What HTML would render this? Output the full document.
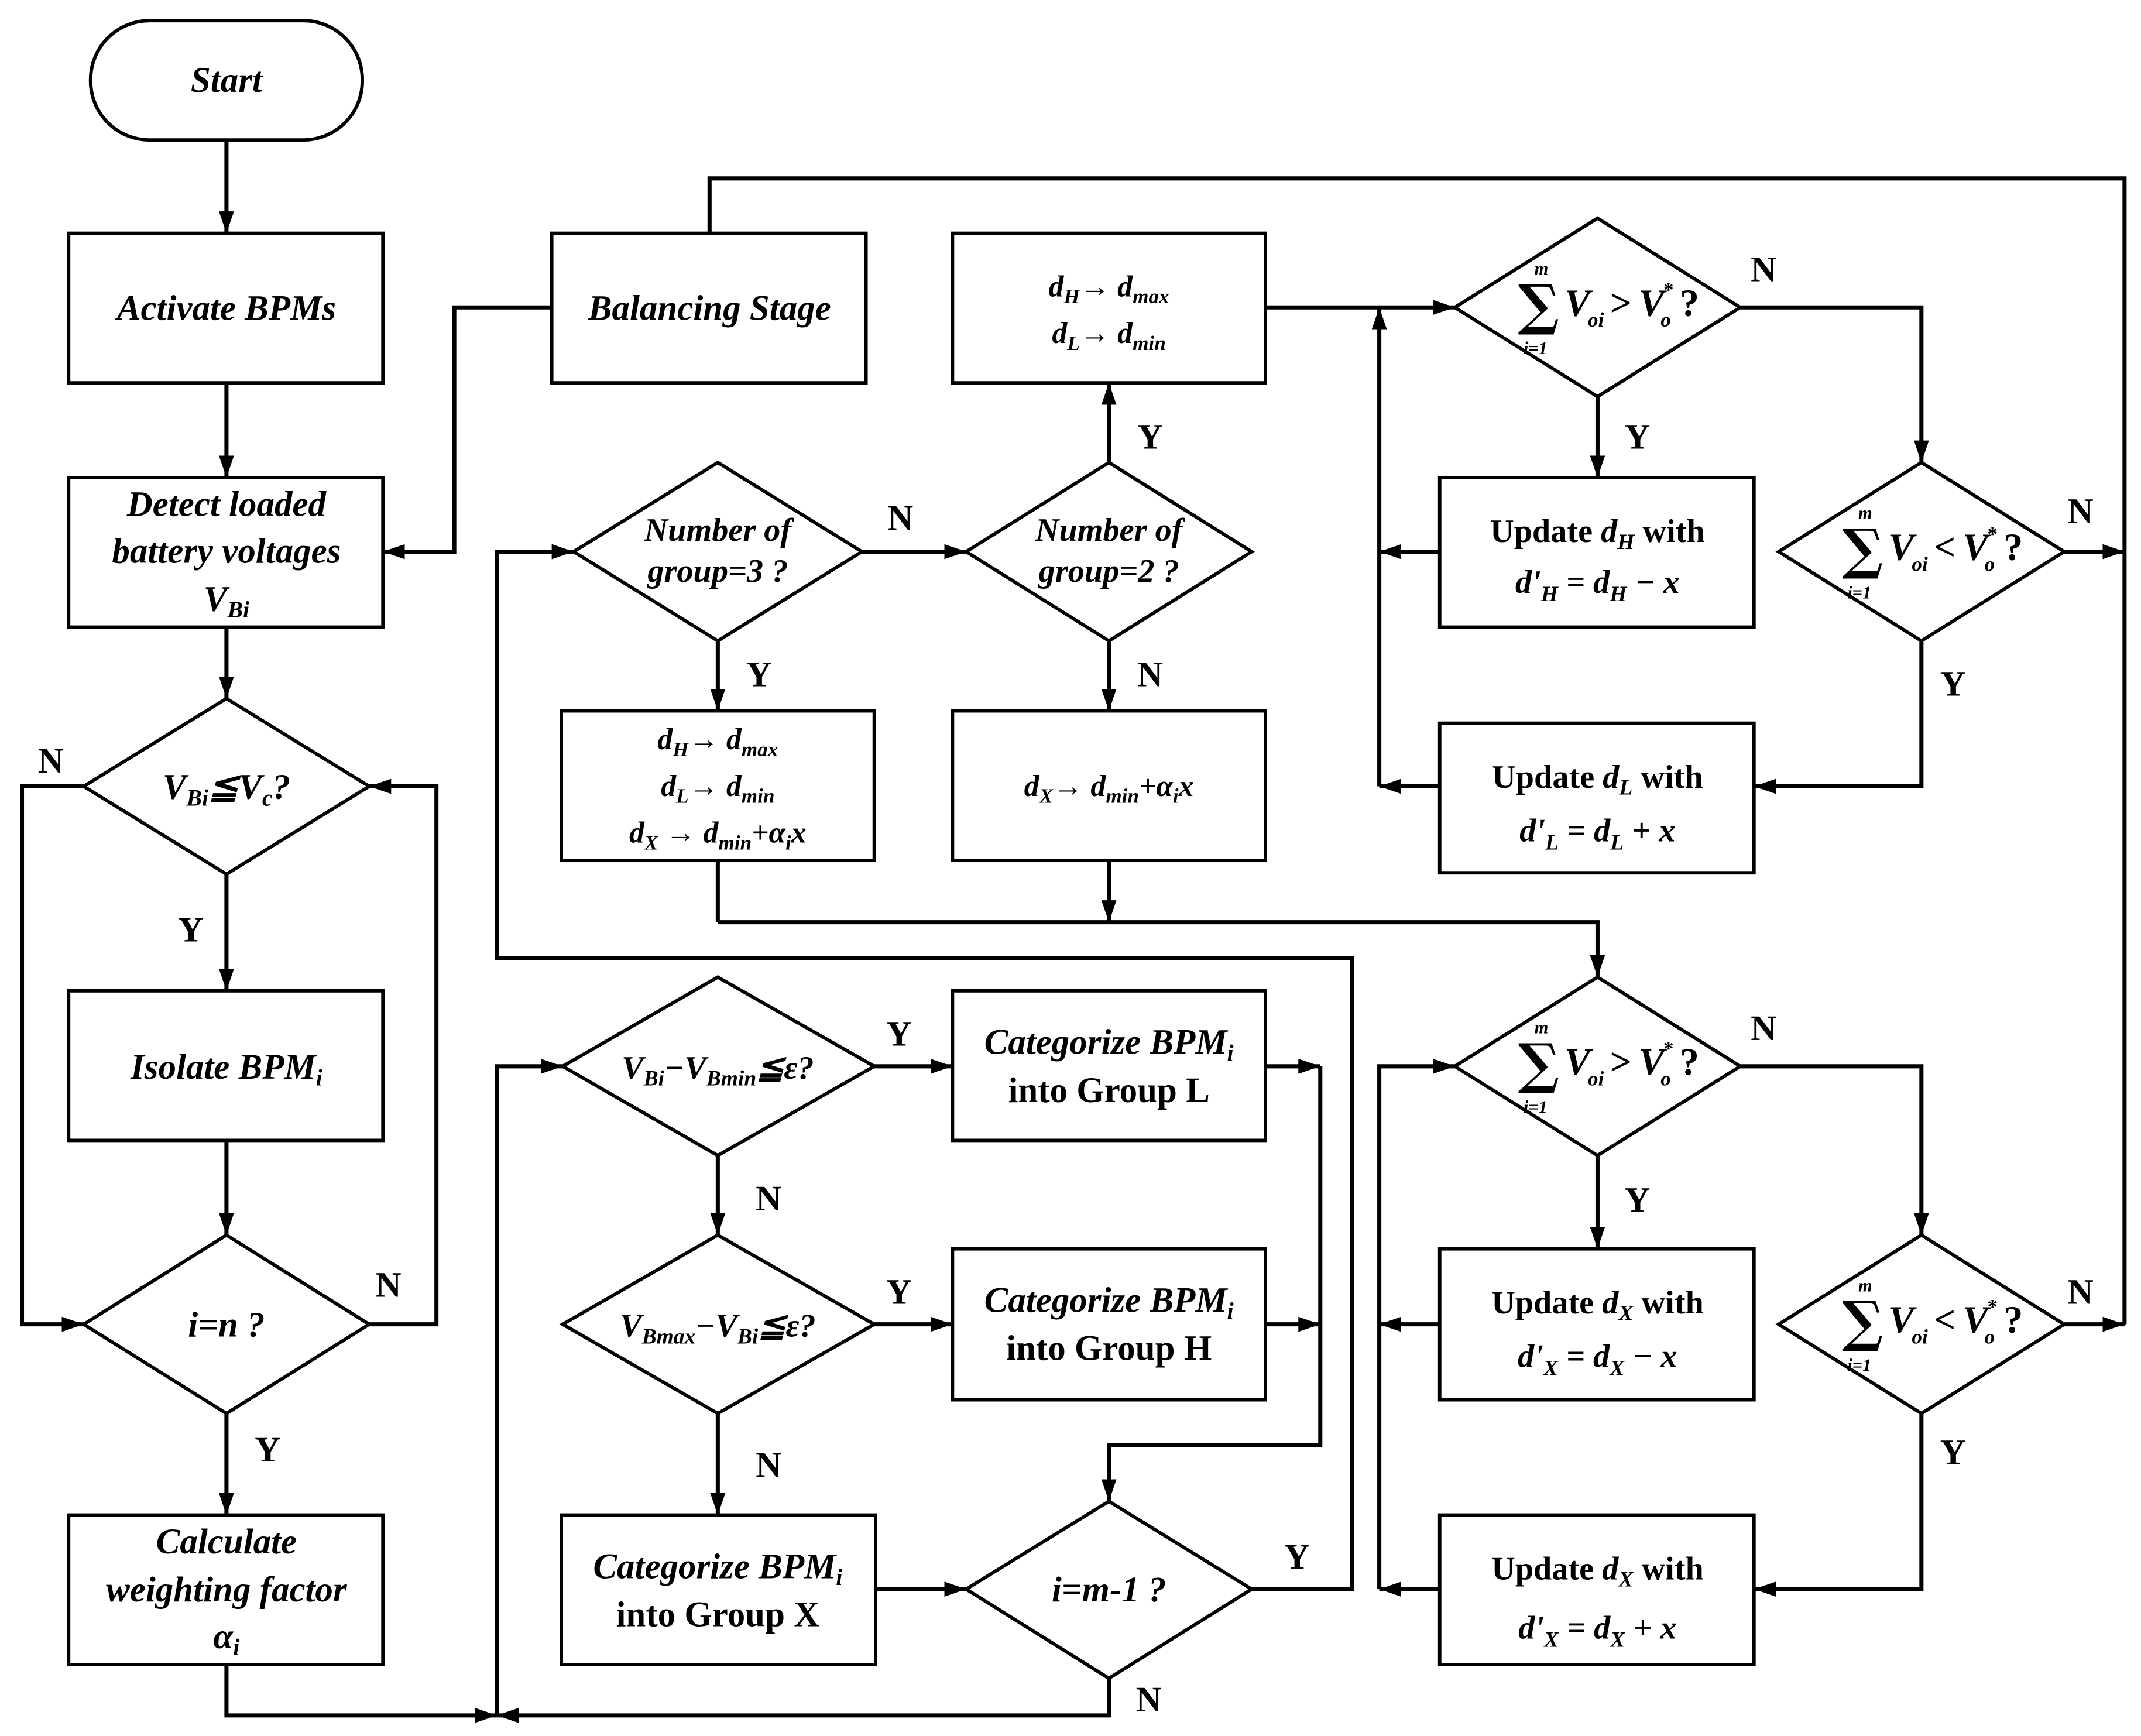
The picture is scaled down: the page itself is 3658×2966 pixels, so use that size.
<!DOCTYPE html>
<html><head><meta charset="utf-8">
<style>
html,body{margin:0;padding:0;background:#fff;}
svg{display:block;}
text{font-family:"Liberation Serif",serif;font-weight:bold;fill:#000;}
.i{font-style:italic;}
.sg{font-family:"DejaVu Serif",serif;font-style:normal;font-weight:bold;}
</style></head><body>
<svg width="3658" height="2966" viewBox="0 0 1560 1265" preserveAspectRatio="none" xmlns="http://www.w3.org/2000/svg">
<defs>
<marker id="a" viewBox="0 0 16 11" refX="16" refY="5.5" markerWidth="16" markerHeight="11" markerUnits="userSpaceOnUse" orient="auto">
<path d="M0,0 L16,5.5 L0,11 z" fill="#000"/></marker>
<g id="sgt">
<text x="-58" y="12" font-size="40" class="sg">∑</text>
<text x="-46" y="-24" font-size="13" class="i">m</text>
<text x="-54" y="34" font-size="13" class="i">i=1</text>
</g>
</defs>
<g fill="none" stroke="#000" stroke-width="2.5">
<rect x="66" y="15" width="198" height="87" rx="43"/>
<rect x="50" y="170" width="229" height="109"/>
<rect x="50" y="348" width="229" height="109"/>
<polygon points="165,509 269,573 165,637 61,573"/>
<rect x="50" y="722" width="229" height="109"/>
<polygon points="165,900 269,965 165,1030 61,965"/>
<rect x="50" y="1104" width="229" height="109"/>
<rect x="402" y="170" width="229" height="109"/>
<polygon points="523,337 628,402 523,467 418,402"/>
<polygon points="808,337 912,402 808,467 704,402"/>
<rect x="694" y="170" width="228" height="109"/>
<rect x="409" y="518" width="228" height="109"/>
<rect x="694" y="518" width="228" height="109"/>
<polygon points="1164,159 1268,224 1164,289 1060,224"/>
<polygon points="1400,337 1504,402 1400,467 1296,402"/>
<rect x="1049" y="348" width="229" height="109"/>
<rect x="1049" y="527" width="229" height="109"/>
<polygon points="1164,712 1268,777 1164,842 1060,777"/>
<polygon points="1400,900 1504,965 1400,1030 1296,965"/>
<rect x="1049" y="910" width="229" height="110"/>
<rect x="1049" y="1104" width="229" height="109"/>
<polygon points="523,712 637,777 523,842 410,777"/>
<polygon points="523,900 637,965 523,1030 410,965"/>
<rect x="694" y="722" width="228" height="109"/>
<rect x="694" y="910" width="228" height="110"/>
<rect x="409" y="1104" width="229" height="109"/>
<polygon points="808,1094 912,1158 808,1223 704,1158"/>
</g>
<g fill="none" stroke="#000" stroke-width="3">
<path d="M165,102 V170" marker-end="url(#a)"/>
<path d="M165,279 V348" marker-end="url(#a)"/>
<path d="M165,457 V509" marker-end="url(#a)"/>
<path d="M61,573 H16 V965 H61" marker-end="url(#a)"/>
<path d="M165,637 V722" marker-end="url(#a)"/>
<path d="M165,831 V900" marker-end="url(#a)"/>
<path d="M269,965 H318 V573 H269" marker-end="url(#a)"/>
<path d="M165,1030 V1104" marker-end="url(#a)"/>
<path d="M165,1213 V1250 H362" marker-end="url(#a)"/>
<path d="M402,224 H331 V402 H279" marker-end="url(#a)"/>
<path d="M517,170 V130 H1548 V965"/>
<path d="M912,1158 H985 V698 H362 V402 H418" marker-end="url(#a)"/>
<path d="M628,402 H704" marker-end="url(#a)"/>
<path d="M808,337 V279" marker-end="url(#a)"/>
<path d="M808,467 V518" marker-end="url(#a)"/>
<path d="M523,467 V518" marker-end="url(#a)"/>
<path d="M523,627 V672"/>
<path d="M808,627 V672" marker-end="url(#a)"/>
<path d="M523,672 H1164 V712" marker-end="url(#a)"/>
<path d="M922,224 H1060" marker-end="url(#a)"/>
<path d="M1005,573 V224" marker-end="url(#a)"/>
<path d="M1049,402 H1005" marker-end="url(#a)"/>
<path d="M1049,573 H1005" marker-end="url(#a)"/>
<path d="M1268,224 H1400 V337" marker-end="url(#a)"/>
<path d="M1164,289 V348" marker-end="url(#a)"/>
<path d="M1504,402 H1548" marker-end="url(#a)"/>
<path d="M1400,467 V573 H1278" marker-end="url(#a)"/>
<path d="M1005,1158 V777 H1060" marker-end="url(#a)"/>
<path d="M1049,965 H1005" marker-end="url(#a)"/>
<path d="M1049,1158 H1005" marker-end="url(#a)"/>
<path d="M1268,777 H1400 V900" marker-end="url(#a)"/>
<path d="M1164,842 V910" marker-end="url(#a)"/>
<path d="M1504,965 H1548" marker-end="url(#a)"/>
<path d="M1400,1030 V1158 H1278" marker-end="url(#a)"/>
<path d="M362,1250 V777 H410" marker-end="url(#a)"/>
<path d="M808,1223 V1250 H362" marker-end="url(#a)"/>
<path d="M637,777 H694" marker-end="url(#a)"/>
<path d="M922,777 H962" marker-end="url(#a)"/>
<path d="M922,965 H962" marker-end="url(#a)"/>
<path d="M962,777 V1053 H808 V1094" marker-end="url(#a)"/>
<path d="M523,842 V900" marker-end="url(#a)"/>
<path d="M637,965 H694" marker-end="url(#a)"/>
<path d="M523,1030 V1104" marker-end="url(#a)"/>
<path d="M638,1158 H704" marker-end="url(#a)"/>
</g>

<g font-size="26" text-anchor="middle">
<text x="165" y="67" class="i">Start</text>
<text x="165" y="233" class="i">Activate BPMs</text>
<text x="165" y="376" class="i">Detect loaded</text>
<text x="165" y="410" class="i">battery voltages</text>
<text x="165" y="445" class="i">V<tspan font-size="17" dy="5">Bi</tspan></text>
<text x="165" y="582" class="i">V<tspan font-size="17" dy="5">Bi</tspan><tspan dy="-5">≦V</tspan><tspan font-size="17" dy="5">c</tspan><tspan dy="-5">?</tspan></text>
<text x="165" y="786" class="i">Isolate BPM<tspan font-size="17" dy="5">i</tspan></text>
<text x="165" y="974" class="i">i=n ?</text>
<text x="165" y="1132" class="i">Calculate</text>
<text x="165" y="1167" class="i">weighting factor</text>
<text x="165" y="1201" class="i">α<tspan font-size="17" dy="5">i</tspan></text>
<text x="517" y="233" class="i">Balancing Stage</text>
<text x="523" y="394" class="i" font-size="24">Number of</text>
<text x="523" y="424" class="i" font-size="24">group=3 ?</text>
<text x="808" y="394" class="i" font-size="24">Number of</text>
<text x="808" y="424" class="i" font-size="24">group=2 ?</text>
<g font-size="22" class="i">
<text x="808" y="216">d<tspan font-size="15" dy="5">H</tspan><tspan dy="-5">→ d</tspan><tspan font-size="15" dy="5">max</tspan></text>
<text x="808" y="250">d<tspan font-size="15" dy="5">L</tspan><tspan dy="-5">→ d</tspan><tspan font-size="15" dy="5">min</tspan></text>
<text x="523" y="546">d<tspan font-size="15" dy="5">H</tspan><tspan dy="-5">→ d</tspan><tspan font-size="15" dy="5">max</tspan></text>
<text x="523" y="580">d<tspan font-size="15" dy="5">L</tspan><tspan dy="-5">→ d</tspan><tspan font-size="15" dy="5">min</tspan></text>
<text x="523" y="614">d<tspan font-size="15" dy="5">X</tspan><tspan dy="-5"> → d</tspan><tspan font-size="15" dy="5">min</tspan><tspan dy="-5">+α</tspan><tspan font-size="15" dy="5">i</tspan><tspan dy="-5">x</tspan></text>
<text x="808" y="580">d<tspan font-size="15" dy="5">X</tspan><tspan dy="-5">→ d</tspan><tspan font-size="15" dy="5">min</tspan><tspan dy="-5">+α</tspan><tspan font-size="15" dy="5">i</tspan><tspan dy="-5">x</tspan></text>
</g>
<text x="523" y="786" class="i" font-size="24">V<tspan font-size="16" dy="5">Bi</tspan><tspan dy="-5">−V</tspan><tspan font-size="16" dy="5">Bmin</tspan><tspan dy="-5">≦ε?</tspan></text>
<text x="523" y="974" class="i" font-size="24">V<tspan font-size="16" dy="5">Bmax</tspan><tspan dy="-5">−V</tspan><tspan font-size="16" dy="5">Bi</tspan><tspan dy="-5">≦ε?</tspan></text>
<text x="808" y="768" class="i">Categorize BPM<tspan font-size="17" dy="5">i</tspan></text>
<text x="808" y="803">into Group L</text>
<text x="808" y="956" class="i">Categorize BPM<tspan font-size="17" dy="5">i</tspan></text>
<text x="808" y="991">into Group H</text>
<text x="523" y="1150" class="i">Categorize BPM<tspan font-size="17" dy="5">i</tspan></text>
<text x="523" y="1185">into Group X</text>
<text x="808" y="1167" class="i">i=m-1 ?</text>
<g font-size="24">
<text x="1164" y="395">Update <tspan class="i">d</tspan><tspan font-size="16" dy="5" class="i">H</tspan><tspan dy="-5"> with</tspan></text>
<text x="1164" y="432" class="i">d'<tspan font-size="16" dy="6">H</tspan><tspan dy="-6"> = d</tspan><tspan font-size="16" dy="6">H</tspan><tspan dy="-6"> − x</tspan></text>
<text x="1164" y="574">Update <tspan class="i">d</tspan><tspan font-size="16" dy="5" class="i">L</tspan><tspan dy="-5"> with</tspan></text>
<text x="1164" y="613" class="i">d'<tspan font-size="16" dy="6">L</tspan><tspan dy="-6"> = d</tspan><tspan font-size="16" dy="6">L</tspan><tspan dy="-6"> + x</tspan></text>
<text x="1164" y="957">Update <tspan class="i">d</tspan><tspan font-size="16" dy="5" class="i">X</tspan><tspan dy="-5"> with</tspan></text>
<text x="1164" y="996" class="i">d'<tspan font-size="16" dy="6">X</tspan><tspan dy="-6"> = d</tspan><tspan font-size="16" dy="6">X</tspan><tspan dy="-6"> − x</tspan></text>
<text x="1164" y="1151">Update <tspan class="i">d</tspan><tspan font-size="16" dy="5" class="i">X</tspan><tspan dy="-5"> with</tspan></text>
<text x="1164" y="1194" class="i">d'<tspan font-size="16" dy="6">X</tspan><tspan dy="-6"> = d</tspan><tspan font-size="16" dy="6">X</tspan><tspan dy="-6"> + x</tspan></text>
</g>
</g>

<g class="i">
<g transform="translate(1164,224)">
<use href="#sgt"/>
<text x="-24" y="6" font-size="28">V</text>
<text x="-7" y="14" font-size="15">oi</text>
<text x="9" y="6" font-size="28" font-style="normal">&gt;</text>
<text x="30" y="6" font-size="28">V</text>
<text x="48" y="-8" font-size="15" font-style="normal">*</text>
<text x="46" y="14" font-size="15">o</text>
<text x="60" y="6" font-size="28" font-style="normal">?</text>
</g>
<g transform="translate(1400,402)">
<use href="#sgt"/>
<text x="-24" y="6" font-size="28">V</text>
<text x="-7" y="14" font-size="15">oi</text>
<text x="9" y="6" font-size="28" font-style="normal">&lt;</text>
<text x="30" y="6" font-size="28">V</text>
<text x="48" y="-8" font-size="15" font-style="normal">*</text>
<text x="46" y="14" font-size="15">o</text>
<text x="60" y="6" font-size="28" font-style="normal">?</text>
</g>
<g transform="translate(1164,777)">
<use href="#sgt"/>
<text x="-24" y="6" font-size="28">V</text>
<text x="-7" y="14" font-size="15">oi</text>
<text x="9" y="6" font-size="28" font-style="normal">&gt;</text>
<text x="30" y="6" font-size="28">V</text>
<text x="48" y="-8" font-size="15" font-style="normal">*</text>
<text x="46" y="14" font-size="15">o</text>
<text x="60" y="6" font-size="28" font-style="normal">?</text>
</g>
<g transform="translate(1400,965)">
<use href="#sgt"/>
<text x="-24" y="6" font-size="28">V</text>
<text x="-7" y="14" font-size="15">oi</text>
<text x="9" y="6" font-size="28" font-style="normal">&lt;</text>
<text x="30" y="6" font-size="28">V</text>
<text x="48" y="-8" font-size="15" font-style="normal">*</text>
<text x="46" y="14" font-size="15">o</text>
<text x="60" y="6" font-size="28" font-style="normal">?</text>
</g>
</g>

<g font-size="26" text-anchor="middle">
<text x="37" y="563">N</text>
<text x="139" y="686">Y</text>
<text x="283" y="945">N</text>
<text x="195" y="1065">Y</text>
<text x="656" y="386">N</text>
<text x="838" y="327">Y</text>
<text x="838" y="500">N</text>
<text x="553" y="500">Y</text>
<text x="1285" y="205">N</text>
<text x="1193" y="327">Y</text>
<text x="1516" y="381">N</text>
<text x="1423" y="507">Y</text>
<text x="1285" y="758">N</text>
<text x="1193" y="883">Y</text>
<text x="1516" y="950">N</text>
<text x="1423" y="1067">Y</text>
<text x="655" y="762">Y</text>
<text x="560" y="882">N</text>
<text x="655" y="950">Y</text>
<text x="560" y="1076">N</text>
<text x="945" y="1143">Y</text>
<text x="837" y="1247">N</text>
</g>
</svg>
</body></html>
